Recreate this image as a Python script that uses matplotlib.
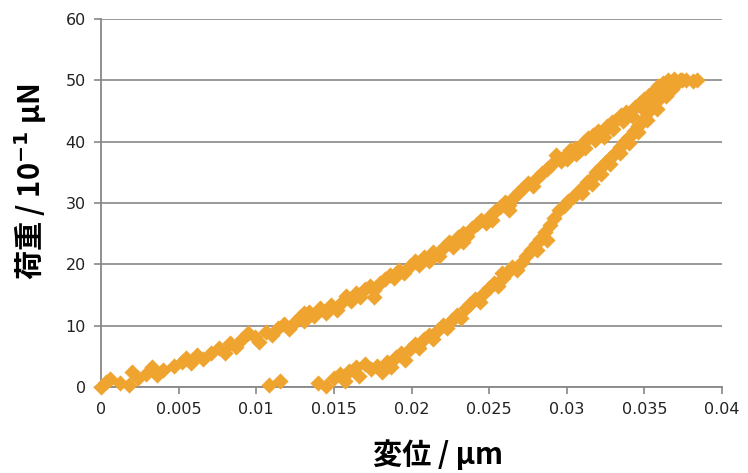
import matplotlib
matplotlib.use("Agg")
import matplotlib.pyplot as plt

# loading branch (upper curve)
load_x = [0.0, 0.0003, 0.0006, 0.0012, 0.0018, 0.0020, 0.0024, 0.0029, 0.0033, 0.0036,
          0.0040, 0.0047, 0.0052, 0.0055, 0.0058, 0.0062, 0.0066, 0.0071, 0.0076, 0.0080,
          0.0083, 0.0087, 0.0091, 0.0095, 0.0099, 0.0102, 0.0106, 0.0110, 0.0114, 0.0118,
          0.0121, 0.0125, 0.0128, 0.0131, 0.0134, 0.0137, 0.0141, 0.0145, 0.0148, 0.0152,
          0.0155, 0.0158, 0.0161, 0.0164, 0.0167, 0.0170, 0.0173, 0.0176, 0.0180, 0.0183,
          0.0186, 0.0189, 0.0192, 0.0195, 0.0199, 0.0202, 0.0205, 0.0208, 0.0211, 0.0214,
          0.0218, 0.0221, 0.0224, 0.0227, 0.0230, 0.0233, 0.0236, 0.0239, 0.0242, 0.0245,
          0.0248, 0.0251, 0.0254, 0.0257, 0.0260, 0.0263, 0.0266, 0.0269, 0.0272, 0.0275,
          0.0278, 0.0281, 0.0284, 0.0287, 0.0290, 0.0293, 0.0296, 0.0299, 0.0302, 0.0305,
          0.0308, 0.0311, 0.0314, 0.0317, 0.0320, 0.0323, 0.0326, 0.0329, 0.0332, 0.0335,
          0.0338, 0.0341, 0.0344, 0.0347, 0.0350, 0.0353, 0.0356, 0.0359, 0.0362, 0.0365,
          0.0369, 0.0373, 0.0377, 0.0381, 0.0384,
          0.0300, 0.0306, 0.0312, 0.0318, 0.0324, 0.0330, 0.0336, 0.0342, 0.0348, 0.0354,
          0.0360, 0.0366, 0.0371, 0.0233, 0.0252, 0.0263, 0.0176, 0.0131]
load_y = [0.0, 0.8, 1.3, 0.6, 0.3, 2.4, 1.5, 2.2, 3.2, 1.9,
          2.7, 3.5, 4.1, 4.8, 3.9, 5.2, 4.5, 5.6, 6.4, 5.6,
          7.1, 6.5, 7.9, 8.8, 8.2, 7.4, 9.0, 8.5, 9.6, 10.3,
          9.4, 10.6, 11.4, 10.8, 12.3, 11.5, 12.8, 12.1, 13.4, 12.6,
          13.9, 14.8, 14.1, 15.3, 14.6, 15.9, 16.5, 15.8, 16.9, 17.6,
          18.3, 17.8, 19.0, 18.6, 19.8, 20.5, 19.9, 21.2, 20.6, 22.0,
          21.4, 22.8, 23.6, 22.9, 24.4, 25.1, 24.6, 25.9, 26.6, 27.3,
          26.8, 28.0, 28.7, 29.4, 30.1, 29.6, 31.0, 31.8, 32.5, 33.3,
          32.8, 34.1, 34.9, 35.5, 36.2, 37.8, 36.9, 37.6, 38.6, 39.0,
          38.5, 40.0, 40.6, 41.1, 41.8, 41.4, 42.6, 43.2, 43.6, 44.3,
          44.9, 44.5, 45.6, 46.3, 46.9, 47.6, 48.3, 49.0, 49.6, 50.1,
          50.2, 50.0, 50.1, 49.9, 50.0,
          37.2, 38.0, 38.9, 40.3, 40.7, 42.0, 43.4, 44.2, 45.6, 46.8,
          48.4, 49.4, 49.6, 23.6, 27.2, 28.9, 14.6, 12.0]

# unloading branch (lower curve)
unload_x = [0.0108, 0.0115, 0.0140, 0.0145, 0.0150, 0.0154, 0.0157, 0.0160, 0.0164, 0.0166,
            0.0170, 0.0174, 0.0178, 0.0181, 0.0184, 0.0187, 0.0190, 0.0193, 0.0196, 0.0199,
            0.0202, 0.0205, 0.0208, 0.0211, 0.0214, 0.0217, 0.0220, 0.0223, 0.0226, 0.0229,
            0.0232, 0.0235, 0.0238, 0.0241, 0.0244, 0.0247, 0.0250, 0.0253, 0.0256, 0.0259,
            0.0262, 0.0265, 0.0268, 0.0271, 0.0274, 0.0277, 0.0280, 0.0283, 0.0286, 0.0289,
            0.0292, 0.0295, 0.0298, 0.0301, 0.0304, 0.0307, 0.0310, 0.0313, 0.0316, 0.0319,
            0.0322, 0.0325, 0.0328, 0.0331, 0.0334, 0.0337, 0.0340, 0.0343, 0.0346, 0.0349,
            0.0352, 0.0355, 0.0358, 0.0361, 0.0364, 0.0367, 0.0370, 0.0374,
            0.0310, 0.0316, 0.0322, 0.0328, 0.0334, 0.0340, 0.0346, 0.0352, 0.0358, 0.0364,
            0.0368, 0.0281, 0.0287, 0.0258]
unload_y = [0.4, 1.0, 0.6, 0.1, 1.4, 2.2, 1.0, 2.6, 3.3, 1.8,
            3.8, 2.9, 3.4, 2.5, 4.1, 3.3, 4.9, 5.6, 4.4, 6.2,
            7.0, 6.4, 7.8, 8.5, 7.9, 9.3, 10.1, 9.6, 11.0, 11.8,
            11.3, 12.8, 13.6, 14.4, 13.9, 15.3, 16.1, 17.0, 16.4, 17.8,
            18.7, 19.5, 19.0, 20.4, 21.4, 22.3, 23.3, 24.2, 25.3, 26.4,
            27.6, 28.8, 29.5, 30.4, 31.0, 31.8, 32.5, 33.4, 34.1, 35.0,
            35.8, 36.7, 37.4, 38.2, 39.1, 40.0, 40.8, 41.7, 42.6, 43.6,
            44.6, 45.6, 46.6, 47.6, 48.5, 49.3, 49.9, 50.1,
            31.6, 33.1, 34.8, 36.3, 38.1, 39.8, 41.6, 43.5, 45.4, 47.4,
            48.6, 22.4, 24.0, 18.6]

x_ticks = [0, 0.005, 0.01, 0.015, 0.02, 0.025, 0.03, 0.035, 0.04]
x_ticklabels = ["0", "0.005", "0.01", "0.015", "0.02", "0.025", "0.03", "0.035", "0.04"]
y_ticks = [0, 10, 20, 30, 40, 50, 60]

color = "#F0A430"
gray = "#888888"

fig = plt.figure(figsize=(7.48, 4.73), dpi=100)
ax = fig.add_axes([101 / 748, 1 - 387 / 473, 621 / 748, 368 / 473])

ax.scatter(load_x, load_y, marker="D", s=68, color=color, linewidths=0, zorder=3, clip_on=False)
ax.scatter(unload_x, unload_y, marker="D", s=68, color=color, linewidths=0, zorder=3, clip_on=False)

ax.set_xlim(0, 0.04)
ax.set_ylim(0, 60)
ax.set_xticks(x_ticks)
ax.set_xticklabels(x_ticklabels)
ax.set_yticks(y_ticks)

for s in ["top", "right"]:
    ax.spines[s].set_visible(False)
for s in ["left", "bottom"]:
    ax.spines[s].set_color(gray)
    ax.spines[s].set_linewidth(1.3)

ax.grid(axis="y", color=gray, linewidth=1.2)
ax.set_axisbelow(True)
ax.tick_params(direction="out", length=5, width=1.2, color=gray,
               labelsize=11.5, labelcolor="#222222", pad=6)

jp = ["Noto Sans CJK JP", "DejaVu Sans"]
fig.text(438 / 748, 1 - 455 / 473, "変位 / μm", family=jp, fontsize=21,
         fontweight="bold", ha="center", va="center")
fig.text(30 / 748, 1 - 182 / 473, r"荷重 / 10$^{\mathbf{-1}}$ μN", family=jp, fontsize=21,
         fontweight="bold", ha="center", va="center", rotation=90)

fig.savefig("out.png", dpi=100)
